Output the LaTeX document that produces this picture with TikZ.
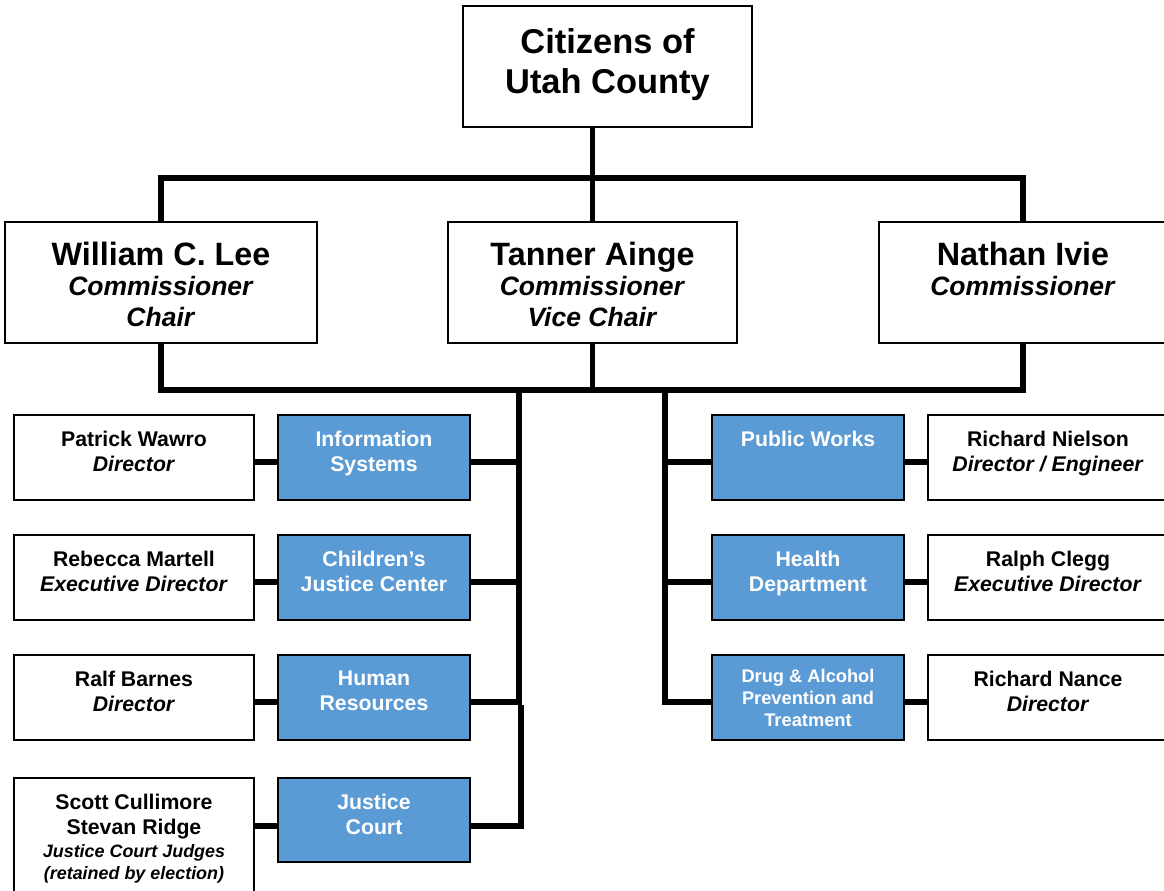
\documentclass[tikz,border=0pt]{standalone}
\usepackage{fontspec}
\setmainfont{Liberation Sans}
\usetikzlibrary{positioning}
\definecolor{deptblue}{RGB}{91,155,213}

\tikzset{
  box/.style={draw=black, line width=1.1pt, fill=white, inner sep=0pt, outer sep=0pt},
  topbox/.style={box, minimum width=5.78cm, minimum height=2.42cm},
  headbox/.style={box, minimum width=4.8cm, minimum height=1.7cm},
  deptbox/.style={box, fill=deptblue, minimum width=3.84cm, minimum height=1.7cm},
  conn/.style={line width=3.4pt},
  txt/.style={align=center, inner sep=0pt, font=\bfseries\fontsize{12.1}{14.2}\selectfont},
  depttxt/.style={txt, text=white},
  commtxt/.style={txt, font=\bfseries\fontsize{15.1}{17.3}\selectfont}
}

\begin{document}
\begin{tikzpicture}[x=0.02cm, y=-0.02cm]
    \useasboundingbox (0,0) rectangle (1164,891);

    % citizens and commission
    \node[topbox] (cit) at (607.5,66.5) {};
    \node[txt, font=\bfseries\fontsize{19.6}{22.7}\selectfont, below=0.44cm of cit.north] (citT) {Citizens of\\Utah County};

    \node[topbox, minimum width=6.24cm] (lee) at (161,282.5) {};
    \node[commtxt, below=0.39cm of lee.north] (leeT) {{\fontsize{18.4}{18}\selectfont William C. Lee}\\\textit{Commissioner}\\\textit{Chair}};
    \node[topbox] (ainge) at (592.5,282.5) {};
    \node[commtxt, below=0.39cm of ainge.north] (aingeT) {{\fontsize{18.4}{18}\selectfont Tanner Ainge}\\\textit{Commissioner}\\\textit{Vice Chair}};
    \node[topbox] (ivie) at (1023,282.5) {};
    \node[commtxt, below=0.39cm of ivie.north] (ivieT) {{\fontsize{18.4}{18}\selectfont Nathan Ivie}\\\textit{Commissioner}};

    % left departments
    \node[headbox] (pw) at (134,457.5) {};
    \node[txt, below=0.32cm of pw.north] (pwT) {Patrick Wawro\\\textit{Director}};
    \node[deptbox] (isys) at (374,457.5) {};
    \node[depttxt, below=0.32cm of isys.north] (isysT) {Information\\Systems};

    \node[headbox] (rm) at (134,577.5) {};
    \node[txt, below=0.32cm of rm.north] (rmT) {Rebecca Martell\\\textit{Executive Director}};
    \node[deptbox] (cjc) at (374,577.5) {};
    \node[depttxt, below=0.32cm of cjc.north] (cjcT) {Children’s\\Justice Center};

    \node[headbox] (rb) at (134,697.5) {};
    \node[txt, below=0.32cm of rb.north] (rbT) {Ralf Barnes\\\textit{Director}};
    \node[deptbox] (hr) at (374,697.5) {};
    \node[depttxt, below=0.32cm of hr.north] (hrT) {Human\\Resources};

    \node[headbox, minimum height=2.4cm] (judges) at (134,838) {};
    \node[txt, font=\bfseries\fontsize{12.1}{12.5}\selectfont, below=0.32cm of judges.north] (judgesT) {Scott Cullimore\\[1.7pt]Stevan Ridge\\[0.5pt]{\itshape\fontsize{10.2}{12}\selectfont Justice Court Judges}\\{\itshape\fontsize{10.2}{12}\selectfont (retained by election)}};
    \node[deptbox, minimum height=1.68cm] (jc) at (374,820) {};
    \node[depttxt, below=0.32cm of jc.north] (jcT) {Justice\\Court};

    % right departments
    \node[deptbox] (pubw) at (808,457.5) {};
    \node[depttxt, below=0.32cm of pubw.north] (pubwT) {Public Works};
    \node[headbox] (rn) at (1048,457.5) {};
    \node[txt, below=0.32cm of rn.north] (rnT) {Richard Nielson\\\textit{Director / Engineer}};

    \node[deptbox] (health) at (808,577.5) {};
    \node[depttxt, below=0.32cm of health.north] (healthT) {Health\\Department};
    \node[headbox] (rc) at (1048,577.5) {};
    \node[txt, below=0.32cm of rc.north] (rcT) {Ralph Clegg\\\textit{Executive Director}};

    \node[deptbox] (drug) at (808,697.5) {};
    \node[depttxt, font=\bfseries\fontsize{10.4}{12.5}\selectfont, below=0.28cm of drug.north] (drugT) {Drug \& Alcohol\\Prevention and\\Treatment};
    \node[headbox] (rnance) at (1048,697.5) {};
    \node[txt, below=0.32cm of rnance.north] (rnanceT) {Richard Nance\\\textit{Director}};

    % connectors
    \coordinate (bus1) at (0,178);
    \coordinate (bus2) at (0,390);
    \coordinate (ltrunk) at (519,390);
    \coordinate (rtrunk) at (665,390);
    \coordinate (jbrk) at (521,705);
    \coordinate (r1) at (0,462);
    \coordinate (r2) at (0,582);
    \coordinate (r3) at (0,702);
    \coordinate (r4) at (0,826);

    \draw[conn] (ainge.north) -- (ainge.north |- cit.south);
    \draw[conn] (lee.north) -- (lee.north |- bus1) -- (ivie.north |- bus1) -- (ivie.north);
    \draw[conn] (lee.south) -- (lee.south |- bus2) -- (ivie.south |- bus2) -- (ivie.south);
    \draw[conn] (ainge.south) -- (ainge.south |- bus2);

    \draw[conn] (ltrunk) -- (ltrunk |- r3) -- (hr.east |- r3);
    \draw[conn] (isys.east |- r1) -- (ltrunk |- r1);
    \draw[conn] (cjc.east |- r2) -- (ltrunk |- r2);
    \draw[conn] (jbrk) -- (jbrk |- r4) -- (jc.east |- r4);
    \draw[conn] (pw.east |- r1) -- (isys.west |- r1);
    \draw[conn] (rm.east |- r2) -- (cjc.west |- r2);
    \draw[conn] (rb.east |- r3) -- (hr.west |- r3);
    \draw[conn] (judges.east |- r4) -- (jc.west |- r4);

    \draw[conn] (rtrunk) -- (rtrunk |- r3) -- (drug.west |- r3);
    \draw[conn] (rtrunk |- r1) -- (pubw.west |- r1);
    \draw[conn] (rtrunk |- r2) -- (health.west |- r2);
    \draw[conn] (pubw.east |- r1) -- (rn.west |- r1);
    \draw[conn] (health.east |- r2) -- (rc.west |- r2);
    \draw[conn] (drug.east |- r3) -- (rnance.west |- r3);
\end{tikzpicture}
\end{document}
